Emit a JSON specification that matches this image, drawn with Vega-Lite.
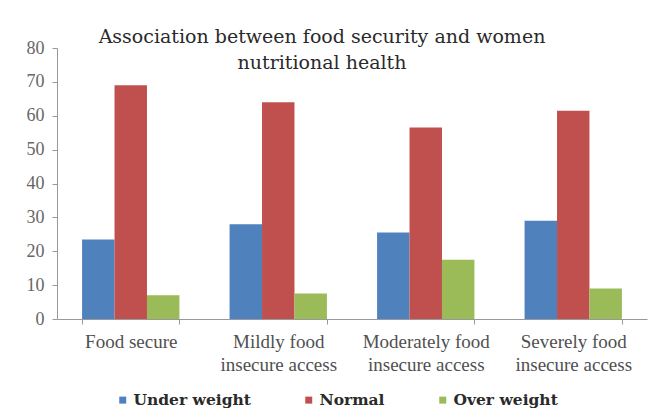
{
  "$schema": "https://vega.github.io/schema/vega-lite/v6.json",
  "width": 590,
  "height": 271,
  "autosize": "none",
  "padding": {"left": 57, "top": 48, "right": 1, "bottom": 100},
  "background": "white",
  "title": {
    "text": ["Association between food security and women", "nutritional health"],
    "font": "DejaVu Serif",
    "fontSize": 19,
    "fontWeight": "normal",
    "color": "#2a2a2a",
    "anchor": "middle",
    "frame": "group",
    "dx": -30,
    "offset": -34,
    "lineHeight": 26
  },
  "data": {
    "values": [
      {"category": "Food secure", "status": "Under weight", "percent": 23.5},
      {"category": "Food secure", "status": "Normal", "percent": 69},
      {"category": "Food secure", "status": "Over weight", "percent": 7},
      {"category": "Mildly food insecure access", "status": "Under weight", "percent": 28},
      {"category": "Mildly food insecure access", "status": "Normal", "percent": 64},
      {"category": "Mildly food insecure access", "status": "Over weight", "percent": 7.5},
      {"category": "Moderately food insecure access", "status": "Under weight", "percent": 25.5},
      {"category": "Moderately food insecure access", "status": "Normal", "percent": 56.5},
      {"category": "Moderately food insecure access", "status": "Over weight", "percent": 17.5},
      {"category": "Severely food insecure access", "status": "Under weight", "percent": 29},
      {"category": "Severely food insecure access", "status": "Normal", "percent": 61.5},
      {"category": "Severely food insecure access", "status": "Over weight", "percent": 9}
    ]
  },
  "mark": {"type": "bar"},
  "encoding": {
    "x": {
      "field": "category",
      "type": "nominal",
      "sort": ["Food secure", "Mildly food insecure access", "Moderately food insecure access", "Severely food insecure access"],
      "scale": {"paddingInner": 0.34, "paddingOuter": 0.17},
      "axis": {
        "title": null,
        "labelAngle": 0,
        "labelExpr": "isString(datum.value) ? (datum.value == 'Food secure' ? 'Food secure' : [replace(datum.value, ' insecure access', ''), 'insecure access']) : ''",
        "labelFont": "Liberation Serif",
        "labelFontSize": 19,
        "labelColor": "#505050",
        "labelLineHeight": 23,
        "labelPadding": 8,
        "tickBand": "extent",
        "tickSize": 5,
        "tickColor": "#999999",
        "domainColor": "#999999"
      }
    },
    "xOffset": {
      "field": "status",
      "sort": ["Under weight", "Normal", "Over weight"]
    },
    "y": {
      "field": "percent",
      "type": "quantitative",
      "scale": {"domain": [0, 80]},
      "axis": {
        "title": null,
        "values": [0, 10, 20, 30, 40, 50, 60, 70, 80],
        "grid": false,
        "labelFont": "Liberation Serif",
        "labelFontSize": 18,
        "labelColor": "#666666",
        "labelPadding": 8,
        "tickSize": 5,
        "tickColor": "#999999",
        "domainColor": "#999999"
      }
    },
    "color": {
      "field": "status",
      "type": "nominal",
      "scale": {
        "domain": ["Under weight", "Normal", "Over weight"],
        "range": ["#4F81BD", "#C0504D", "#9BBB59"]
      },
      "legend": {
        "title": null,
        "orient": "none",
        "legendX": 58,
        "legendY": 344,
        "direction": "horizontal",
        "padding": 0,
        "symbolType": "square",
        "symbolSize": 49,
        "symbolStrokeWidth": 0,
        "labelOffset": 3,
        "labelFont": "DejaVu Serif",
        "labelFontWeight": "bold",
        "labelFontSize": 15.5,
        "labelColor": "#2a2a2a",
        "columnPadding": 50
      }
    }
  },
  "config": {"view": {"stroke": null}}
}
